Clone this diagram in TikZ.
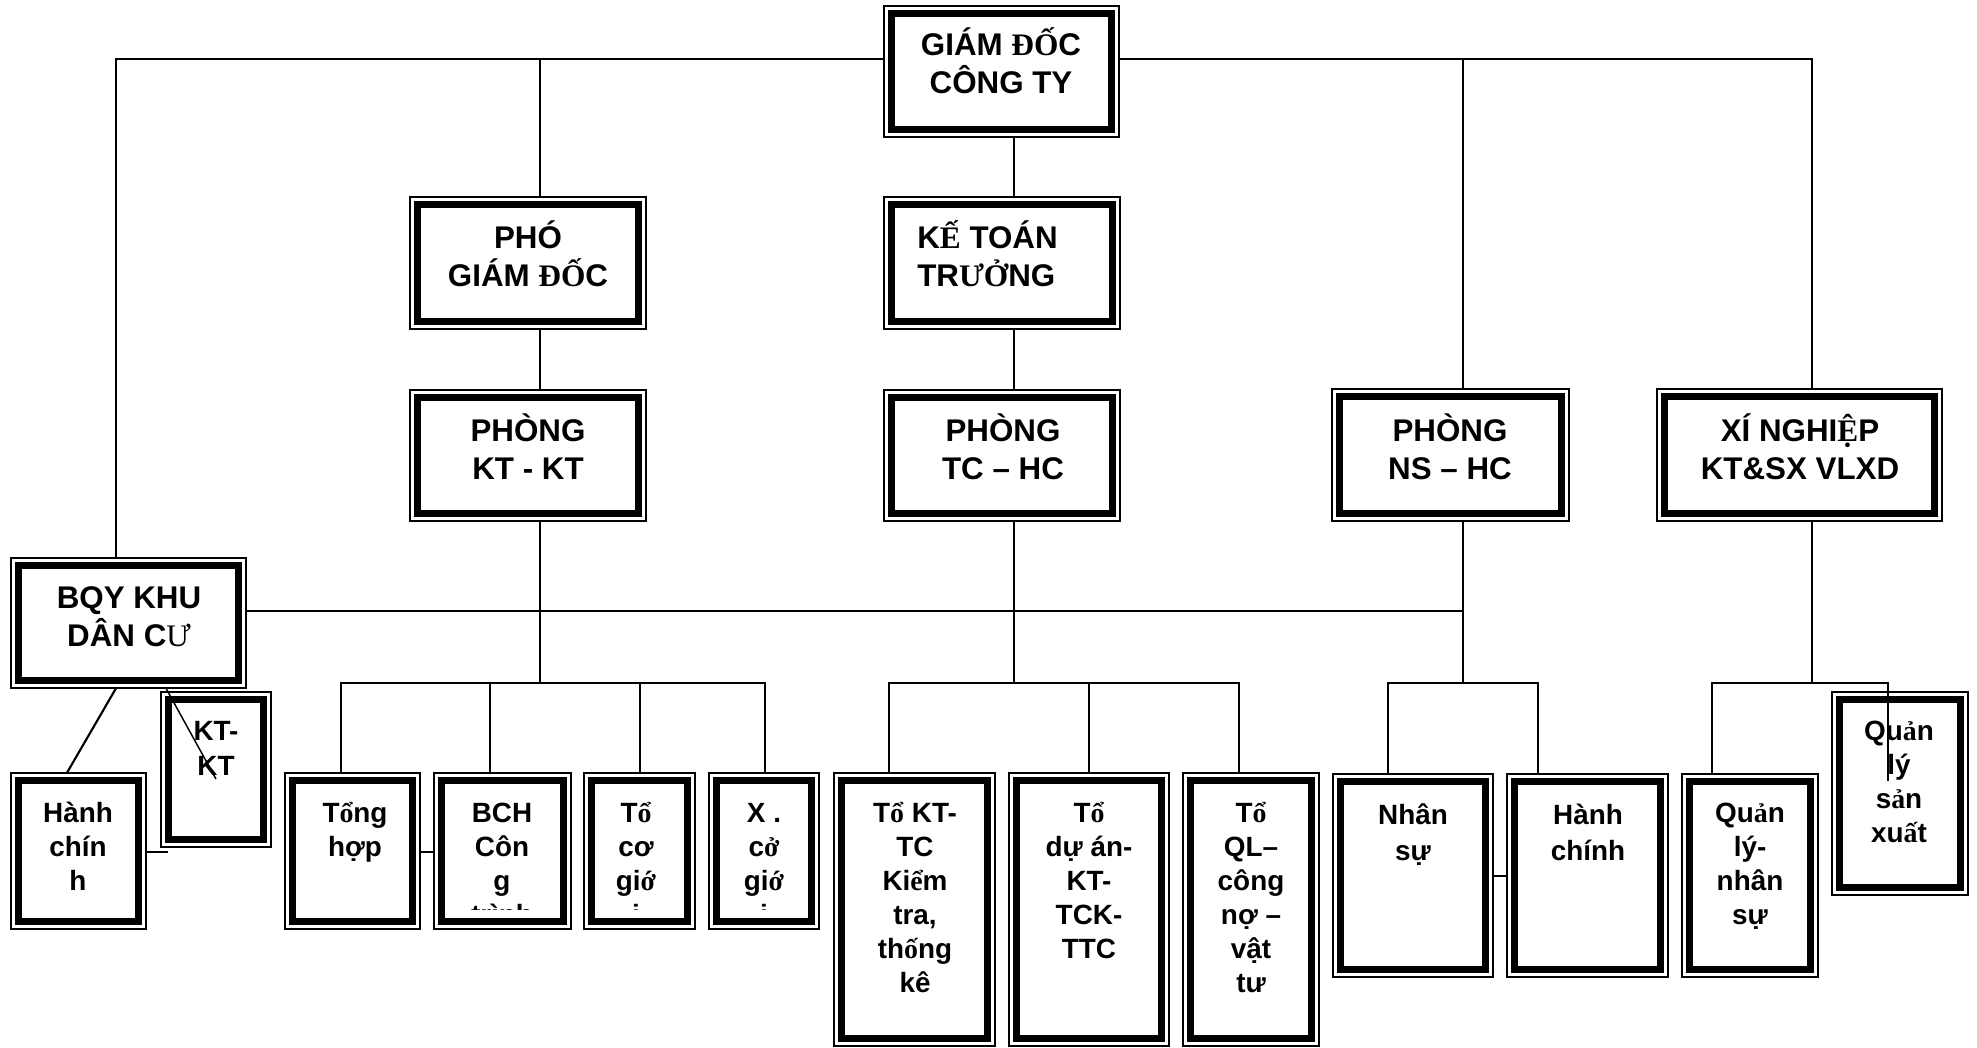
\documentclass[tikz,border=0pt]{standalone}
\usepackage{fontspec}
\usetikzlibrary{fit}
\newfontfamily\arf{Liberation Sans}
\newfontfamily\tmf{Liberation Serif}
\newcommand\SU[1]{{\tmf #1}}
\newcommand\SL[1]{{\tmf #1}}
\newcommand\st{\rule{0pt}{30pt}}
\tikzset{
  box/.style={draw, line width=1.3pt, fill=white, inner sep=0pt,
    path picture={\draw[line width=5.2pt]
      ([shift={(6pt,-6pt)}]path picture bounding box.north west) rectangle
      ([shift={(-6pt,6pt)}]path picture bounding box.south east);}},
  utxt/.style={anchor=north, inner sep=0pt, align=center,
    font=\arf\bfseries\fontsize{23.5pt}{28.9pt}\selectfont},
  ltxt/.style={anchor=north, inner sep=0pt, align=center,
    font=\arf\bfseries\fontsize{20.9pt}{25.5pt}\selectfont},
  mtxt/.style={ltxt, font=\arf\bfseries\fontsize{20.9pt}{27pt}\selectfont},
  conn/.style={line width=1.1pt, line cap=rect},
}
\begin{document}
\begin{tikzpicture}[x=0.75pt, y=-0.75pt]
\fill[white] (0,0) rectangle (1977,1048);
\useasboundingbox (0,0) rectangle (1977,1048);

% column coordinates
\coordinate (xB) at (116,0);
\coordinate (xA) at (540,0);
\coordinate (xK) at (1014,0);
\coordinate (xN) at (1463,0);
\coordinate (xX) at (1812,0);
\coordinate (bus) at (0,59);
\coordinate (sb) at (0,683);
\coordinate (hy) at (0,611);
\coordinate (d0) at (67,0);
\coordinate (e1) at (166,0);
\coordinate (kend) at (216,779);
\coordinate (d1) at (341,0);
\coordinate (d2) at (490,0);
\coordinate (d3) at (640,0);
\coordinate (d4) at (765,0);
\coordinate (d5) at (889,0);
\coordinate (d6) at (1089,0);
\coordinate (d7) at (1239,0);
\coordinate (d8) at (1388,0);
\coordinate (d9) at (1538,0);
\coordinate (d10) at (1712,0);
\coordinate (d11) at (1888,0);
\coordinate (qend) at (1888,780);
\coordinate (s1) at (167,852);
\coordinate (s2) at (0,876);

% box frames (anchors first, drawn later)
\path
  node[fit={(884,6) (1119,137)}, inner sep=0pt] (gd) {}
  node[fit={(410,197) (646,329)}, inner sep=0pt] (pgd) {}
  node[fit={(884,197) (1120,329)}, inner sep=0pt] (ktt) {}
  node[fit={(410,390) (646,521)}, inner sep=0pt] (pkt) {}
  node[fit={(884,390) (1120,521)}, inner sep=0pt] (ptc) {}
  node[fit={(1332,389) (1569,521)}, inner sep=0pt] (pns) {}
  node[fit={(1657,389) (1942,521)}, inner sep=0pt] (xn) {}
  node[fit={(11,558) (246,688)}, inner sep=0pt] (bqy) {}
  node[fit={(161,692) (271,847)}, inner sep=0pt] (ktkt) {}
  node[fit={(11,773) (146,929)}, inner sep=0pt] (hc1) {}
  node[fit={(285,773) (420,929)}, inner sep=0pt] (th) {}
  node[fit={(434,773) (571,929)}, inner sep=0pt] (bch) {}
  node[fit={(584,773) (695,929)}, inner sep=0pt] (tcg) {}
  node[fit={(709,773) (819,929)}, inner sep=0pt] (xcg) {}
  node[fit={(834,773) (995,1046)}, inner sep=0pt] (tkt) {}
  node[fit={(1009,773) (1169,1046)}, inner sep=0pt] (tda) {}
  node[fit={(1183,773) (1319,1046)}, inner sep=0pt] (tql) {}
  node[fit={(1333,774) (1493,977)}, inner sep=0pt] (ns) {}
  node[fit={(1507,774) (1668,977)}, inner sep=0pt] (hc2) {}
  node[fit={(1682,774) (1818,977)}, inner sep=0pt] (qlns) {}
  node[fit={(1832,692) (1968,895)}, inner sep=0pt] (qlsx) {};

% connectors behind boxes
\draw[conn] (bqy.north -| xB) -- (xB |- bus) -- (xX |- bus) -- (xn.north -| xX);
\draw[conn] (xA |- bus) -- (pgd.north -| xA);
\draw[conn] (xN |- bus) -- (pns.north -| xN);
\draw[conn] (gd.south -| xK) -- (ktt.north -| xK);
\draw[conn] (ktt.south -| xK) -- (ptc.north -| xK);
\draw[conn] (pgd.south -| xA) -- (pkt.north -| xA);
\draw[conn] (pkt.south -| xA) -- (xA |- sb);
\draw[conn] (th.north -| d1) -- (d1 |- sb) -- (d4 |- sb) -- (xcg.north -| d4);
\draw[conn] (bch.north -| d2) -- (d2 |- sb);
\draw[conn] (tcg.north -| d3) -- (d3 |- sb);
\draw[conn] (ptc.south -| xK) -- (xK |- sb);
\draw[conn] (tkt.north -| d5) -- (d5 |- sb) -- (d7 |- sb) -- (tql.north -| d7);
\draw[conn] (tda.north -| d6) -- (d6 |- sb);
\draw[conn] (pns.south -| xN) -- (xN |- sb);
\draw[conn] (ns.north -| d8) -- (d8 |- sb) -- (d9 |- sb) -- (hc2.north -| d9);
\draw[conn] (xn.south -| xX) -- (xX |- sb);
\draw[conn] (qlns.north -| d10) -- (d10 |- sb) -- (d11 |- sb) -- (d11 |- qlsx.north);
\draw[conn] (bqy.east |- hy) -- (xN |- hy);
\draw[conn] (hc1.east |- s1) -- (s1);
\draw[conn] (th.east |- s1) -- (bch.west |- s1);
\draw[conn] (ns.east |- s2) -- (hc2.west |- s2);
\draw[line width=1.6pt] (bqy.south -| xB) -- (hc1.north -| d0);

% visible boxes
\foreach \n in {gd,pgd,ktt,pkt,ptc,pns,xn,bqy,ktkt,hc1,th,bch,tcg,xcg,tkt,tda,tql,ns,hc2,qlns,qlsx}
  \path[box] (\n.north west) rectangle (\n.south east);

% texts (first baseline = box top + 49)
\node[utxt] (gdT) at (1001,15) {\st GIÁM \SU{ĐỐ}C\\CÔNG TY};
\node[utxt] (pgdT) at (528,208) {\st PHÓ\\GIÁM \SU{ĐỐ}C};
\node[utxt, anchor=north west, align=left] (kttT) at (917,208) {\st K\SU{Ế} TOÁN\\TR\SU{ƯỞ}NG};
\node[utxt] (pktT) at (528,401) {\st PHÒNG\\KT - KT};
\node[utxt] (ptcT) at (1003,401) {\st PHÒNG\\TC – HC};
\node[utxt] (pnsT) at (1450,401) {\st PHÒNG\\NS – HC};
\node[utxt] (xnT) at (1800,401) {\st XÍ NGHI\SU{Ệ}P\\KT\&SX VLXD};
\node[utxt] (bqyT) at (129,568) {\st BQY KHU\\DÂN C\SU{\mdseries Ư}};
\node[ltxt, font=\arf\bfseries\fontsize{20.9pt}{26.2pt}\selectfont] (ktktT) at (216,700) {\st KT-\\KT};
\node[ltxt] (hc1T) at (78,782) {\st Hành\\chín\\h};
\node[ltxt] (thT) at (355,782) {\st T\SL{ổ}ng\\hợp};
\begin{scope}
\clip (434,760) rectangle (819,909);
\node[ltxt] (bchT) at (502,782) {\st BCH\\Côn\\g\\trình};
\node[ltxt] (tcgT) at (636,782) {\st T\SL{ổ}\\cơ\\gi\SL{ớ}\\i};
\node[ltxt] (xcgT) at (764,782) {\st X .\\c\SL{ở}\\gi\SL{ớ}\\i};
\end{scope}
\node[ltxt] (tktT) at (915,782) {\st T\SL{ổ} KT-\\TC\\Ki\SL{ể}m\\tra,\\th\SL{ố}ng\\kê};
\node[ltxt] (tdaT) at (1089,782) {\st T\SL{ổ}\\dự án-\\KT-\\TCK-\\TTC};
\node[ltxt] (tqlT) at (1251,782) {\st T\SL{ổ}\\QL–\\công\\nợ –\\vật\\tư};
\node[mtxt] (nsT) at (1413,784) {\st Nhân\\sự};
\node[mtxt] (hc2T) at (1588,784) {\st Hành\\chính};
\node[ltxt] (qlnsT) at (1750,782) {\st Qu\SL{ả}n\\lý-\\nhân\\sự};
\node[ltxt] (qlsxT) at (1899,700) {\st Qu\SL{ả}n\\lý\\s\SL{ả}n\\xu\SL{ấ}t};

% connectors drawn over boxes
\draw[conn] (d11 |- qlsx.north) -- (qend);
\draw[line width=1.1pt] (bqy.south -| e1) -- (kend);
\end{tikzpicture}
\end{document}
